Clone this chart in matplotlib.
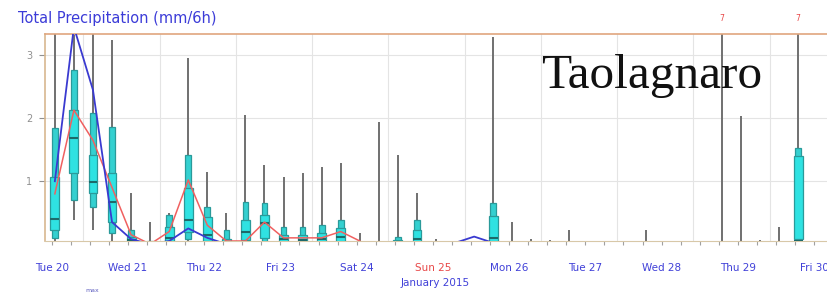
import matplotlib
matplotlib.use("Agg")
import matplotlib.pyplot as plt
import numpy as np

# ---------------- data ----------------
hours = [6 * i for i in range(40)]
p_max = [3.6, 3.6, 3.6, 3.24, 0.81, 0.35, 0.50, 2.96, 1.14, 0.50,
         2.05, 1.26, 1.07, 1.13, 1.22, 1.29, 0.17, 1.94, 1.41, 0.81,
         0.08, 0.02, 0.05, 3.29, 0.35, 0.08, 0.06, 0.22, 0.02, 0.0,
         0.02, 0.22, 0.0, 0.0, 0.02, 3.6, 2.03, 0.06, 0.27, 3.6]
p90 = [1.84, 2.77, 2.08, 1.86, 0.22, 0.05, 0.46, 1.41, 0.59, 0.22,
       0.67, 0.65, 0.27, 0.27, 0.30, 0.38, 0.02, 0.03, 0.12, 0.38,
       0.0, 0.0, 0.0, 0.65, 0.02, 0.0, 0.0, 0.02, 0.0, 0.0,
       0.0, 0.02, 0.0, 0.0, 0.0, 0.04, 0.02, 0.0, 0.03, 1.53]
p75 = [1.07, 2.13, 1.41, 1.13, 0.12, 0.02, 0.27, 0.90, 0.43, 0.08,
       0.38, 0.46, 0.15, 0.15, 0.18, 0.25, 0.01, 0.01, 0.06, 0.22,
       0.0, 0.0, 0.0, 0.45, 0.0, 0.0, 0.0, 0.0, 0.0, 0.0,
       0.0, 0.0, 0.0, 0.0, 0.0, 0.02, 0.0, 0.0, 0.0, 1.40]
p50 = [0.40, 1.68, 0.98, 0.67, 0.06, 0.0, 0.10, 0.38, 0.15, 0.02,
       0.20, 0.33, 0.08, 0.07, 0.08, 0.12, 0.0, 0.0, 0.02, 0.08,
       0.0, 0.0, 0.0, 0.10, 0.0, 0.0, 0.0, 0.0, 0.0, 0.0,
       0.0, 0.0, 0.0, 0.0, 0.0, 0.0, 0.0, 0.0, 0.0, 0.05]
p25 = [0.22, 1.13, 0.81, 0.35, 0.02, 0.0, 0.03, 0.20, 0.05, 0.0,
       0.06, 0.10, 0.02, 0.02, 0.02, 0.03, 0.0, 0.0, 0.0, 0.02,
       0.0, 0.0, 0.0, 0.03, 0.0, 0.0, 0.0, 0.0, 0.0, 0.0,
       0.0, 0.0, 0.0, 0.0, 0.0, 0.0, 0.0, 0.0, 0.0, 0.08]
p10 = [0.10, 0.70, 0.59, 0.17, 0.0, 0.0, 0.0, 0.08, 0.0, 0.0,
       0.0, 0.02, 0.0, 0.0, 0.0, 0.0, 0.0, 0.0, 0.0, 0.0,
       0.0, 0.0, 0.0, 0.0, 0.0, 0.0, 0.0, 0.0, 0.0, 0.0,
       0.0, 0.0, 0.0, 0.0, 0.0, 0.0, 0.0, 0.0, 0.0, 0.02]
p_min = [0.02, 0.38, 0.22, 0.03, 0.0, 0.0, 0.0, 0.0, 0.0, 0.0,
         0.0, 0.0, 0.0, 0.0, 0.0, 0.0, 0.0, 0.0, 0.0, 0.0,
         0.0, 0.0, 0.0, 0.0, 0.0, 0.0, 0.0, 0.0, 0.0, 0.0,
         0.0, 0.0, 0.0, 0.0, 0.0, 0.0, 0.0, 0.0, 0.0, 0.0]

control_hours = [6 * i for i in range(17)]
control = [0.80, 2.13, 1.65, 0.90, 0.15, 0.0, 0.20, 1.02, 0.30, 0.05,
           0.05, 0.35, 0.10, 0.10, 0.10, 0.20, 0.05]
hres_hours = [6 * i for i in range(24)]
hres = [1.00, 3.45, 2.45, 0.35, 0.08, 0.0, 0.05, 0.25, 0.10, 0.0,
        0.0, 0.0, 0.0, 0.0, 0.0, 0.0, 0.0, 0.0, 0.0, 0.0,
        0.0, 0.02, 0.12, 0.02]

day_labels = ["Tue 20", "Wed 21", "Thu 22", "Fri 23", "Sat 24", "Sun 25",
              "Mon 26", "Tue 27", "Wed 28", "Thu 29", "Fri 30"]
day_colors = ["#4040d8"] * 5 + ["#e84848"] + ["#4040d8"] * 5
overflow_hours = [210, 234]
y_ticks = [1, 2, 3]

# ---------------- figure ----------------
fig = plt.figure(figsize=(8.28, 2.94), dpi=100)
ax = fig.add_axes([45 / 828, 1 - 241 / 294, 1 - 45 / 828 + 0.01, (241 - 34) / 294])
ax.set_xlim(-3.1, 246)
ax.set_ylim(0.05, 3.34)

# grid
for h in range(9, 246, 24):
    ax.axvline(h, color="#e4e4e4", lw=0.8, zorder=0)
for v in y_ticks:
    ax.axhline(v, color="#e4e4e4", lw=0.8, zorder=0)

x = np.array(hours, dtype=float)
lo = np.array(p10); hi = np.array(p90)
q1 = np.array(p25); q3 = np.array(p75)

ax.vlines(x, p_min, p_max, color="#707070", lw=1.4, zorder=2)
ax.bar(x, hi - lo, bottom=lo, width=1.8, color="#34d0d0",
       edgecolor="#2a9a9a", linewidth=0.9, zorder=3)
ax.bar(x, q3 - q1, bottom=q1, width=2.8, color="#2fe2e2",
       edgecolor="#2a9a9a", linewidth=0.9, zorder=4)
ax.hlines(p50, x - 1.4, x + 1.4, color="#1d6a6a", lw=1.5, zorder=5)

ax.plot(control_hours, control, color="#f06060", lw=1.1, zorder=6)
ax.plot(hres_hours, hres, color="#3a3ad0", lw=1.3, zorder=7)

# overflow markers
for h in overflow_hours:
    ax.text(h, 1.075, "7", transform=ax.get_xaxis_transform(), color="#e84848",
            fontsize=5.5, ha="center", va="center", clip_on=False)

# spines
ax.spines["right"].set_visible(False)
ax.spines["left"].set_color("#d8b890")
ax.spines["top"].set_color("#e0a67e")
ax.spines["bottom"].set_color("#d8c8a8")
ax.spines["left"].set_linewidth(1.2)
ax.spines["top"].set_linewidth(1.2)

# ticks
ax.set_yticks(y_ticks)
ax.set_yticklabels([str(v) for v in y_ticks])
ax.tick_params(axis="y", colors="#909090", labelsize=7, length=4, width=0.8,
               pad=5)
ax.set_xticks([24 * d - 1 for d in range(len(day_labels))])
ax.set_xticklabels(day_labels, fontsize=7.5)
ax.set_xticks([6 * k - 1 for k in range(42)], minor=True)
ax.tick_params(axis="x", which="both", colors="#a0a0a0", length=3, width=0.8,
               pad=13)
for lbl, c in zip(ax.get_xticklabels(), day_colors):
    lbl.set_color(c)

fig.text(435 / 828, 1 - 283 / 294, "January 2015", color="#4040d8",
         fontsize=7.5, ha="center", va="center")
fig.text(92 / 828, 1 - 290 / 294, "max", color="#6060c0", fontsize=4.5,
         ha="center", va="center")
fig.text(18 / 828, 1 - 18 / 294, "Total Precipitation (mm/6h)", color="#3c3cd8",
         fontsize=10.5, ha="left", va="center")

ax.text((536 - 45) / 783, (241 - 88) / 207, "Taolagnaro", transform=ax.transAxes,
        family="Liberation Serif", fontsize=35.5, color="#111111",
        ha="left", va="baseline", zorder=10)

fig.savefig("out.png", dpi=100)
